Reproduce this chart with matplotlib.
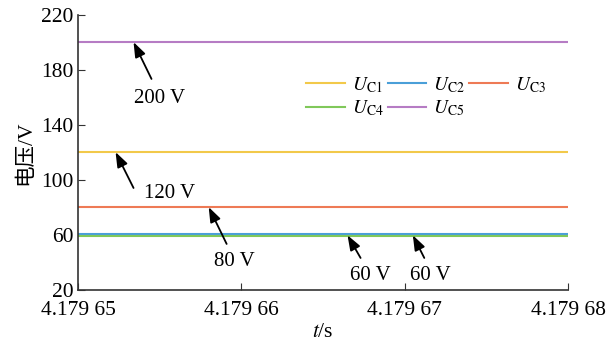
import matplotlib.pyplot as plt
import numpy as np

plt.rcParams['font.family'] = ['Liberation Serif', 'Noto Sans CJK SC']
plt.rcParams['mathtext.fontset'] = 'stix'

# time window and the five capacitor voltages
t = np.array([4.17965, 4.17968])
names = ['C1', 'C2', 'C3', 'C4', 'C5']
levels = [120.3, 60.6, 80.3, 59.6, 200.3]
colors = ['#f2c94a', '#4a9fd8', '#ee7a55', '#80c85a', '#b67cc4']

xticks = [4.17965, 4.17966, 4.17967, 4.17968]
xticklabels = ['4.179 65', '4.179 66', '4.179 67', '4.179 68']
yticks = [20, 60, 100, 140, 180, 220]

# (label, text x, text y, arrow tail x, tail y, arrow head x, head y)
notes = [
    ('200 V', 4.1796550, 159.6, 4.1796545, 173.5, 4.1796534, 200.3),
    ('120 V', 4.1796556, 90.5, 4.1796534, 94.2, 4.1796523, 120.3),
    ('80 V', 4.1796596, 40.4, 4.1796591, 53.5, 4.1796580, 80.3),
    ('60 V', 4.1796679, 30.9, 4.1796673, 43.3, 4.1796665, 59.8),
    ('60 V', 4.1796716, 30.9, 4.1796712, 43.3, 4.1796705, 59.8),
]

fig = plt.figure(figsize=(6.07, 3.37), dpi=100)
ax = fig.add_axes([0.1285, 0.1395, 0.8073, 0.816])

lines = {}
for n, v, c in zip(names, levels, colors):
    lines[n], = ax.plot(t, [v, v], color=c, lw=1.5, label=r'$U_{\mathrm{%s}}$' % n)

for txt, tx, ty, ax0, ay0, hx, hy in notes:
    ax.text(tx, ty, txt, ha='center', va='center', fontsize=15)
    ax.annotate('', xy=(hx, hy), xytext=(ax0, ay0),
                arrowprops=dict(arrowstyle='-|>,head_length=0.6,head_width=0.22',
                                color='black', lw=1.3, shrinkA=0, shrinkB=0,
                                mutation_scale=15))

order = ['C1', 'C4', 'C2', 'C5', 'C3']
ax.legend([lines[n] for n in order], [lines[n].get_label() for n in order],
          ncol=3, frameon=False, fontsize=14, loc='upper left',
          bbox_to_anchor=(0.45, 0.81), handlelength=2.0, handletextpad=0.35,
          columnspacing=0.2, labelspacing=0.2, borderaxespad=0)

ax.set_xlim(t[0], t[-1])
ax.set_ylim(20, 220)
ax.set_xticks(xticks)
ax.set_xticklabels(xticklabels)
ax.set_yticks(yticks)
ax.tick_params(direction='in', length=5, labelsize=15.5, color='#333333')
ax.tick_params(axis='x', pad=8)
ax.spines['top'].set_visible(False)
ax.spines['right'].set_visible(False)
for s in ['left', 'bottom']:
    ax.spines[s].set_color('#333333')
    ax.spines[s].set_linewidth(1.2)

ax.set_ylabel('电压/V', fontsize=15.5, labelpad=4)
ax.set_xlabel(r'$t$/s', fontsize=15.5, labelpad=2)

fig.savefig('out.png', dpi=100)
